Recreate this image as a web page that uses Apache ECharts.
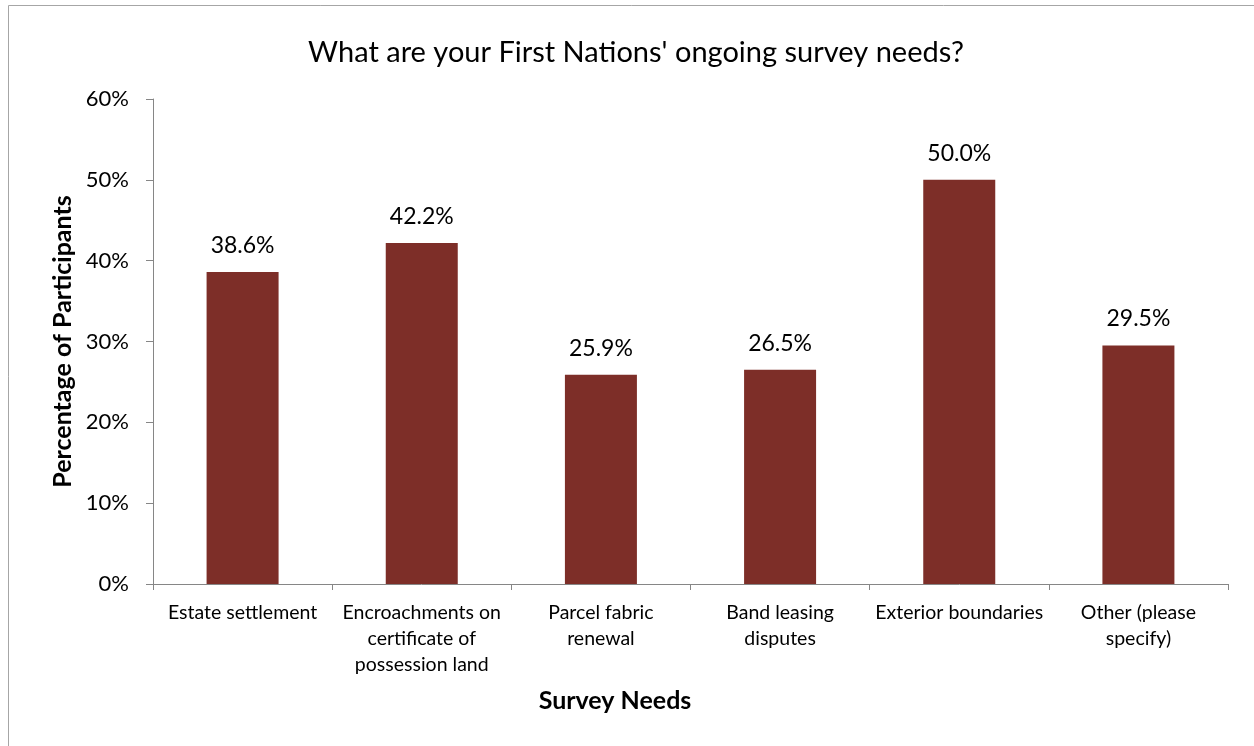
<!DOCTYPE html>
<html>
<head>
<meta charset="utf-8">
<script src="https://cdn.jsdelivr.net/npm/echarts@6/dist/echarts.min.js"></script>
<style>
  html, body { margin: 0; padding: 0; background: #ffffff; }
  #chart { width: 1254px; height: 746px; }
</style>
</head>
<body>
<div id="chart"></div>
<script>
// Survey needs reported by First Nations participants (percent)
const categories = [
  'Estate settlement',
  'Encroachments on\ncertificate of\npossession land',
  'Parcel fabric\nrenewal',
  'Band leasing\ndisputes',
  'Exterior boundaries',
  'Other (please\nspecify)'
];
const percentages = [38.6, 42.2, 25.9, 26.5, 50.0, 29.5];
const yTicks = { min: 0, max: 60, interval: 10 };

const FONT = 'Lato, "Open Sans", sans-serif';
const chart = echarts.init(document.getElementById('chart'), null, { renderer: 'canvas' });

chart.setOption({
  backgroundColor: '#ffffff',
  animation: false,
  title: {
    text: "What are your First Nations' ongoing survey needs?",
    left: 631,
    top: 33,
    textAlign: 'center',
    textStyle: { fontFamily: FONT, fontSize: 29, fontWeight: 'normal', color: '#000000' }
  },
  grid: { left: 153, right: 26, top: 99, bottom: 162, containLabel: false },
  xAxis: {
    type: 'category',
    data: categories,
    axisLine: { lineStyle: { color: '#868686', width: 1 } },
    axisTick: { show: true, length: 6, alignWithLabel: false, lineStyle: { color: '#868686' } },
    axisLabel: {
      interval: 0,
      margin: 16,
      fontFamily: FONT,
      fontSize: 19.5,
      lineHeight: 26,
      color: '#000000',
      align: 'center'
    }
  },
  yAxis: {
    type: 'value',
    min: yTicks.min,
    max: yTicks.max,
    interval: yTicks.interval,
    name: 'Percentage of Participants',
    nameLocation: 'middle',
    nameGap: 78,
    nameRotate: 90,
    nameTextStyle: { fontFamily: FONT, fontSize: 25, fontWeight: 'bold', color: '#000000' },
    axisLine: { show: true, lineStyle: { color: '#868686', width: 1 } },
    axisTick: { show: true, length: 7, lineStyle: { color: '#868686' } },
    splitLine: { show: false },
    axisLabel: {
      margin: 24,
      fontFamily: FONT,
      fontSize: 22,
      color: '#000000',
      formatter: v => v + '%'
    }
  },
  series: [{
    type: 'bar',
    data: percentages,
    barWidth: 72,
    itemStyle: { color: '#7D2E28' },
    label: {
      show: true,
      position: 'top',
      distance: 15,
      fontFamily: FONT,
      fontSize: 23,
      color: '#000000',
      formatter: p => p.value.toFixed(1) + '%'
    }
  }],
  graphic: [
    {
      type: 'rect',
      shape: { x: 8.5, y: 5.5, width: 1400, height: 900 },
      style: { fill: null, stroke: '#a6a6a6', lineWidth: 1 },
      silent: true,
      z: -1
    },
    {
      type: 'text',
      x: 615,
      y: 701,
      style: {
        text: 'Survey Needs',
        fontFamily: FONT,
        fontSize: 25,
        fontWeight: 'bold',
        fill: '#000000',
        align: 'center',
        verticalAlign: 'middle'
      }
    }
  ]
});
</script>
</body>
</html>
